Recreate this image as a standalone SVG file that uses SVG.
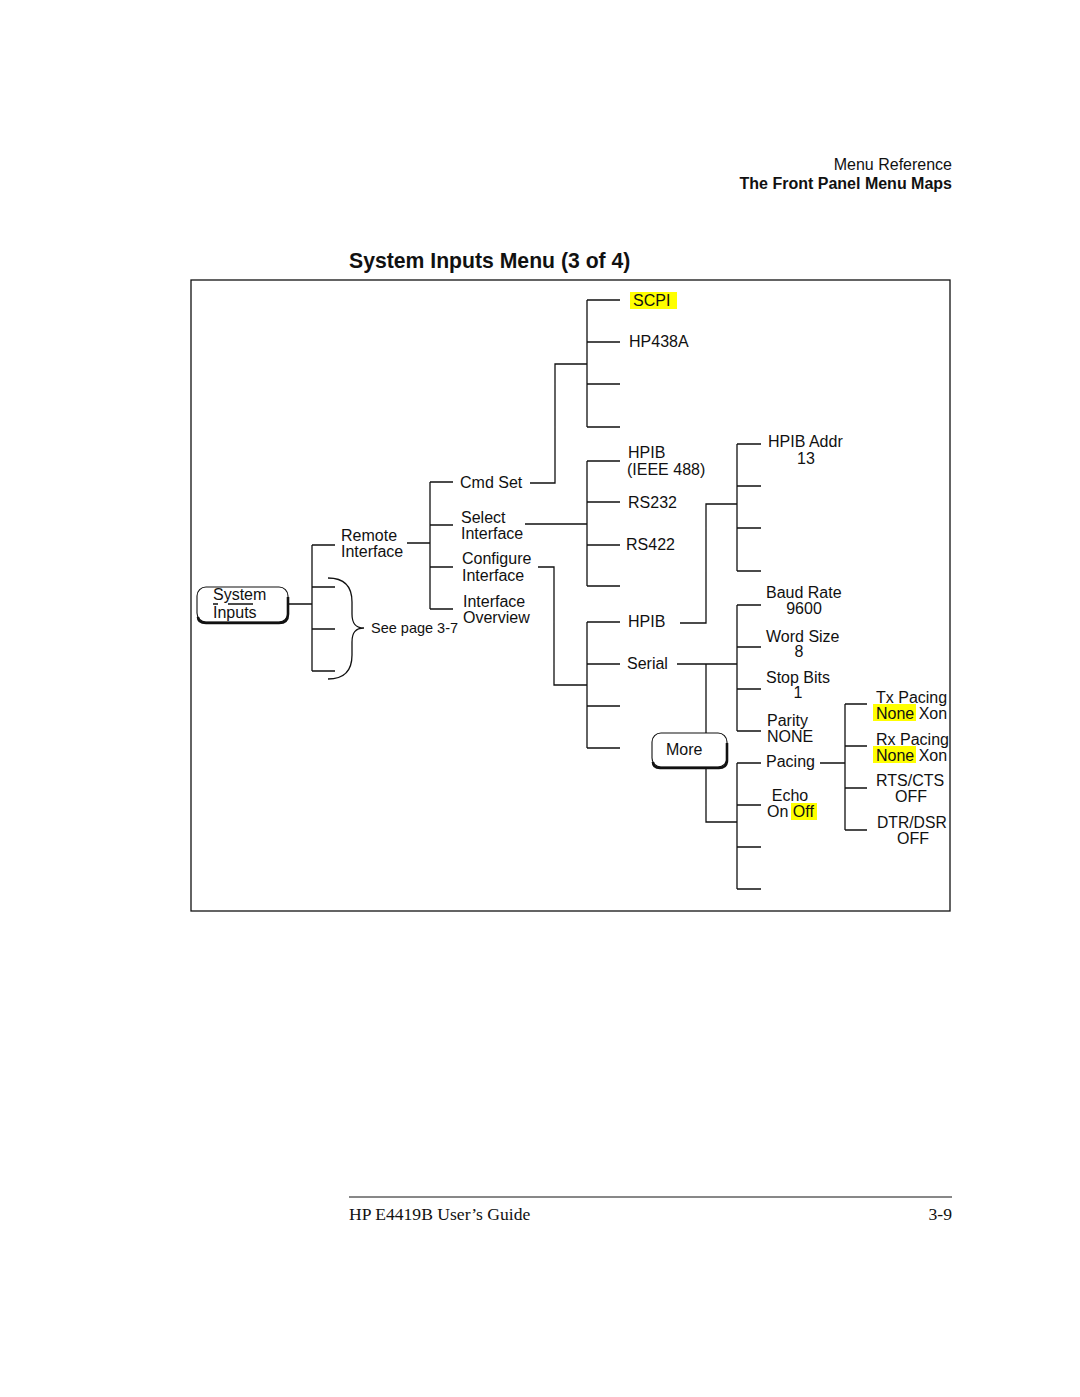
<svg xmlns="http://www.w3.org/2000/svg" width="1080" height="1397" viewBox="0 0 1080 1397">
<style>
text{font-family:"Liberation Sans",Arial,sans-serif;font-size:16px;fill:#111}
.b{font-weight:bold}
.ser{font-family:"Liberation Serif","Times New Roman",serif;font-size:17.6px}
.c{text-anchor:middle}
.r{text-anchor:end}
.ln{fill:none;stroke:#111;stroke-width:1.3}
.hl{fill:#ffff00}
.key{fill:#fff;stroke:#111;stroke-width:1.1}
.sh{fill:none;stroke:#111;stroke-width:2.6}
</style>
<rect width="1080" height="1397" fill="#fff"/>
<text class="r" x="952" y="170">Menu Reference</text>
<text class="r b" x="952" y="189">The Front Panel Menu Maps</text>
<text class="b" x="349" y="268" style="font-size:21.2px">System Inputs Menu (3 of 4)</text>
<rect x="191" y="280" width="759" height="631" fill="none" stroke="#111" stroke-width="1.3"/>

<g id="connectors" class="ln">
<path d="M289,604H312M312,545V671M312,545H335M312,587H335M312,629H335M312,671H335"/>
<path d="M328,578C346,578 352,588 352,602V614C352,623 355,628 364,628C355,628 352,633 352,642V655C352,669 346,679 328,679"/>
<path d="M407,543H430M430,482V609M430,482H453M430,525H453M430,567H453M430,609H453"/>
<path d="M530,483H555V364H587M587,300V427M587,300H620M587,342H620M587,384H620M587,427H620"/>
<path d="M525,524H587M587,461V586M587,461H620M587,502H620M587,545H620M587,586H620"/>
<path d="M538,567H554V685H587M587,622V748M587,622H620M587,664H620M587,706H620M587,748H620"/>
<path d="M680,623H706V504H737M737,444V571M737,444H761M737,486H761M737,528H761M737,571H761"/>
<path d="M677,664H737M737,605V731M737,605H761M737,647H761M737,689H761M737,731H761"/>
<path d="M706,664V733M706,768V822H737M737,763V889M737,763H761M737,805H761M737,847H761M737,889H761"/>
<path d="M820,763H845M845,704V830M845,704H867M845,746H867M845,788H867M845,830H867"/>
</g>

<g id="system-inputs">
<rect class="key" x="197" y="587" width="91" height="35" rx="9"/>
<path class="sh" d="M288,597V614Q288,623 279,623H206Q198,623 198,617"/>
<path class="ln" d="M213,604H218M228,604H253" stroke-width="1.1"/>
<text x="213" y="600">System</text>
<text x="213" y="618">Inputs</text>
</g>
<g id="see-page"><text x="371" y="633" style="font-size:14.5px">See page 3-7</text></g>
<g id="remote-interface"><text x="341" y="541">Remote</text><text x="341" y="557">Interface</text></g>
<g id="cmd-set"><text x="460" y="488">Cmd Set</text></g>
<g id="select-interface"><text x="461" y="523">Select</text><text x="461" y="539">Interface</text></g>
<g id="configure-interface"><text x="462" y="564">Configure</text><text x="462" y="581">Interface</text></g>
<g id="interface-overview"><text x="463" y="607">Interface</text><text x="463" y="623">Overview</text></g>
<g id="scpi"><rect class="hl" x="630" y="292" width="47" height="17"/><text x="633" y="306">SCPI</text></g>
<g id="hp438a"><text x="629" y="347">HP438A</text></g>
<g id="hpib-ieee"><text x="628" y="458">HPIB</text><text x="627" y="475">(IEEE 488)</text></g>
<g id="rs232"><text x="628" y="508">RS232</text></g>
<g id="rs422"><text x="626" y="550">RS422</text></g>
<g id="hpib"><text x="628" y="627">HPIB</text></g>
<g id="serial"><text x="627" y="669">Serial</text></g>
<g id="more">
<rect class="key" x="652" y="733" width="75" height="34" rx="9"/>
<path class="sh" d="M727,743V760Q727,768 719,768H660Q653,768 653,762"/>
<text x="666" y="755">More</text>
</g>
<g id="hpib-addr"><text x="768" y="447">HPIB Addr</text><text class="c" x="806" y="464">13</text></g>
<g id="baud-rate"><text x="766" y="598">Baud Rate</text><text class="c" x="804" y="614">9600</text></g>
<g id="word-size"><text x="766" y="642">Word Size</text><text class="c" x="799" y="657">8</text></g>
<g id="stop-bits"><text x="766" y="683">Stop Bits</text><text class="c" x="798" y="698">1</text></g>
<g id="parity"><text x="767" y="726">Parity</text><text x="767" y="742">NONE</text></g>
<g id="pacing"><text x="766" y="767">Pacing</text></g>
<g id="echo"><rect class="hl" x="791" y="803" width="26" height="17"/><text class="c" x="790" y="801">Echo</text><text x="767" y="817">On Off</text></g>
<g id="tx-pacing"><rect class="hl" x="873" y="704" width="43" height="17"/><text x="876" y="703">Tx Pacing</text><text x="876" y="719">None Xon</text></g>
<g id="rx-pacing"><rect class="hl" x="873" y="746" width="43" height="17"/><text x="876" y="745">Rx Pacing</text><text x="876" y="761">None Xon</text></g>
<g id="rts-cts"><text x="876" y="786">RTS/CTS</text><text class="c" x="911" y="802">OFF</text></g>
<g id="dtr-dsr"><text x="877" y="828" style="font-size:15.7px">DTR/DSR</text><text class="c" x="913" y="844">OFF</text></g>

<line x1="349" y1="1197" x2="952" y2="1197" stroke="#111" stroke-width="1"/>
<text class="ser" x="349" y="1220">HP E4419B User’s Guide</text>
<text class="ser r" x="952" y="1220">3-9</text>
</svg>
